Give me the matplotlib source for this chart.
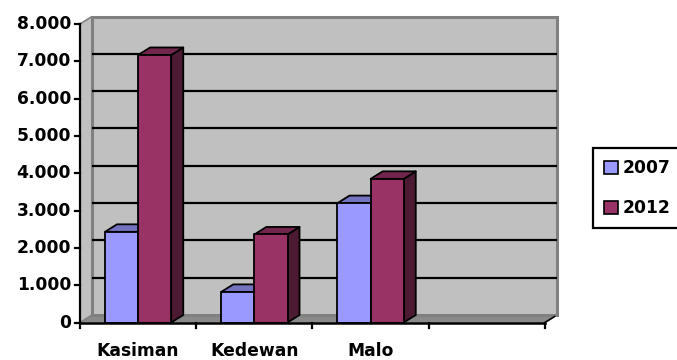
import matplotlib
matplotlib.use("Agg")
import matplotlib.pyplot as plt
from matplotlib.patches import Polygon, Patch

# data
categories = ["Kasiman", "Kedewan", "Malo", ""]
series_names = ["2007", "2012"]
values_2007 = [2430, 820, 3200, 0]
values_2012 = [7170, 2360, 3850, 0]
yticks = [0, 1000, 2000, 3000, 4000, 5000, 6000, 7000, 8000]

front_colors = ["#9999FF", "#993366"]
top_colors = ["#7373C0", "#73264D"]
side_colors = ["#4D4D80", "#4D1A33"]

W, H = 677, 360
fig = plt.figure(figsize=(W / 100, H / 100), dpi=100)
# axes = front plane of the 3d box
ax = fig.add_axes([80 / W, (H - 322.5) / H, 465 / W, 298.5 / H])
n = len(categories)
ax.set_xlim(0, n)
ax.set_ylim(0, 8000)
ax.axis("off")

# depth offset of the 3d box, in data units
dx = 12 / 116.25
dy = 7.5 / 298.5 * 8000
ymax = yticks[-1]

# floor
ax.add_patch(Polygon([(0, 0), (n, 0), (n + dx, dy), (dx, dy)], closed=True,
                     facecolor="#8A8A8A", edgecolor="#A0A0A0", lw=0.8, clip_on=False, zorder=1))
# side wall
ax.add_patch(Polygon([(0, 0), (dx, dy), (dx, ymax + dy), (0, ymax)], closed=True,
                     facecolor="#C0C0C0", edgecolor="#808080", lw=1.2, clip_on=False, zorder=1))
# back wall
ax.add_patch(Polygon([(dx, dy), (n + dx, dy), (n + dx, ymax + dy), (dx, ymax + dy)], closed=True,
                     facecolor="#C0C0C0", edgecolor="#808080", lw=2.2, clip_on=False, zorder=1))
# gridlines on the back wall
for v in yticks[1:-1]:
    ax.plot([dx, n + dx], [v + dy, v + dy], color="black", lw=1.6, clip_on=False, zorder=2,
            solid_capstyle="butt")

# bars
bw = 0.285
gap = 0.215
for i in range(n):
    for j, vals in enumerate([values_2007, values_2012]):
        v = vals[i]
        if v <= 0:
            continue
        x0 = i + gap + j * bw
        x1 = x0 + bw
        z = 3 + j
        ax.add_patch(Polygon([(x1, 0), (x1 + dx, dy), (x1 + dx, v + dy), (x1, v)], closed=True,
                             facecolor=side_colors[j], edgecolor="black", lw=1.3,
                             clip_on=False, zorder=z, joinstyle="round"))
        ax.add_patch(Polygon([(x0, v), (x1, v), (x1 + dx, v + dy), (x0 + dx, v + dy)], closed=True,
                             facecolor=top_colors[j], edgecolor="black", lw=1.3,
                             clip_on=False, zorder=z, joinstyle="round"))
        ax.add_patch(Polygon([(x0, 0), (x1, 0), (x1, v), (x0, v)], closed=True,
                             facecolor=front_colors[j], edgecolor="black", lw=1.3,
                             clip_on=False, zorder=z, joinstyle="round"))

# axes lines and ticks
ax.plot([0, 0], [0, ymax], color="black", lw=1.6, clip_on=False, zorder=6)
ax.plot([0, n], [0, 0], color="black", lw=1.8, clip_on=False, zorder=6)
ax.plot([n, n + dx * 0.8], [0, dy * 0.8], color="black", lw=1.2, clip_on=False, zorder=6)
tick_dx = 5 / 116.25
tick_dy = 5 / 298.5 * 8000
font = dict(family="DejaVu Sans", weight="bold", size=12.3)
for v in yticks:
    ax.plot([-tick_dx, 0], [v, v], color="black", lw=1.6, clip_on=False, zorder=6)
    ax.text(-9 / 116.25, v, f"{v:,}".replace(",", "."), ha="right", va="center",
            clip_on=False, **font)
for i in range(n + 1):
    ax.plot([i, i], [0, -tick_dy], color="black", lw=1.6, clip_on=False, zorder=6)
for i, c in enumerate(categories):
    ax.text(i + 0.5, -28 / 298.5 * 8000, c, ha="center", va="center", clip_on=False, **font)

# legend
handles = [Patch(facecolor=front_colors[k], edgecolor="black", lw=1.2) for k in range(2)]
leg = fig.legend(handles, series_names, loc="upper left",
                 bbox_to_anchor=(593 / W, 1 - 148 / H), borderaxespad=0,
                 prop=dict(family="DejaVu Sans", weight="bold", size=12.3),
                 handlelength=0.8, handleheight=0.8, handletextpad=0.3,
                 labelspacing=1.3, borderpad=0.65, fancybox=False, frameon=True,
                 framealpha=1)
leg.get_frame().set_edgecolor("black")
leg.get_frame().set_linewidth(1.6)

fig.savefig("out.png", dpi=100)
